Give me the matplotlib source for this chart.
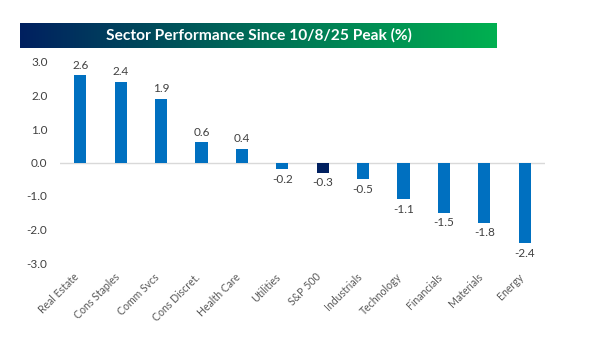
import numpy as np
import matplotlib
matplotlib.use("Agg")
from matplotlib import pyplot as plt
from matplotlib.colors import LinearSegmentedColormap
from matplotlib import transforms

# data
sectors = ["Real Estate", "Cons Staples", "Comm Svcs", "Cons Discret.", "Health Care",
           "Utilities", "S&P 500", "Industrials", "Technology", "Financials",
           "Materials", "Energy"]
values = [2.6, 2.4, 1.9, 0.6, 0.4, -0.2, -0.3, -0.5, -1.1, -1.5, -1.8, -2.4]
yticks = [3.0, 2.0, 1.0, 0.0, -1.0, -2.0, -3.0]

plt.rcParams['font.family'] = ['Lato', 'DejaVu Sans']

fig = plt.figure(figsize=(5.96, 3.59), dpi=100)

# title banner with gradient
bax = fig.add_axes([20/596, 1-48/359, 477/596, 25/359])
cmap = LinearSegmentedColormap.from_list("banner", ["#002060", "#006e57", "#00B050"])
bax.imshow(np.linspace(0, 1, 256).reshape(1, -1), cmap=cmap, aspect='auto',
           extent=[0, 1, 0, 1])
bax.set_axis_off()
bax.text(0.5, 0.5, "Sector Performance Since 10/8/25 Peak (%)", color='white',
         fontsize=11.2, fontweight='bold', ha='center', va='center',
         transform=bax.transAxes)

ax = fig.add_axes([60/596, 1-263/359, 485/596, 201/359])
x = np.arange(len(sectors))
colors = ["#002060" if s == "S&P 500" else "#0070C0" for s in sectors]
ax.bar(x, values, width=0.3, color=colors, zorder=3)
ax.axhline(0, color="#D9D9D9", lw=1, zorder=2)
ax.set_xlim(-0.5, len(sectors) - 0.5)
ax.set_ylim(-3, 3)
ax.set_yticks(yticks)
ax.set_yticklabels([f"{v:.1f}" for v in yticks], color="#404040", fontsize=8.5)
ax.tick_params(axis='y', length=0, pad=9)
ax.set_xticks(x)
ax.set_xticklabels(sectors, rotation=45, ha='right', rotation_mode='anchor',
                   color="#595959", fontsize=7.6)
ax.tick_params(axis='x', length=0, pad=6)
shift = transforms.ScaledTranslation(-7/100, 0, fig.dpi_scale_trans)
for lbl in ax.get_xticklabels():
    lbl.set_transform(lbl.get_transform() + shift)
for sp in ax.spines.values():
    sp.set_visible(False)

for xi, v in zip(x, values):
    off = 0.14 if v >= 0 else -0.14
    ax.text(xi, v + off, f"{v:.1f}", ha='center', va='bottom' if v >= 0 else 'top',
            fontsize=8.5, color="#404040")

fig.savefig("out.png", dpi=100)
